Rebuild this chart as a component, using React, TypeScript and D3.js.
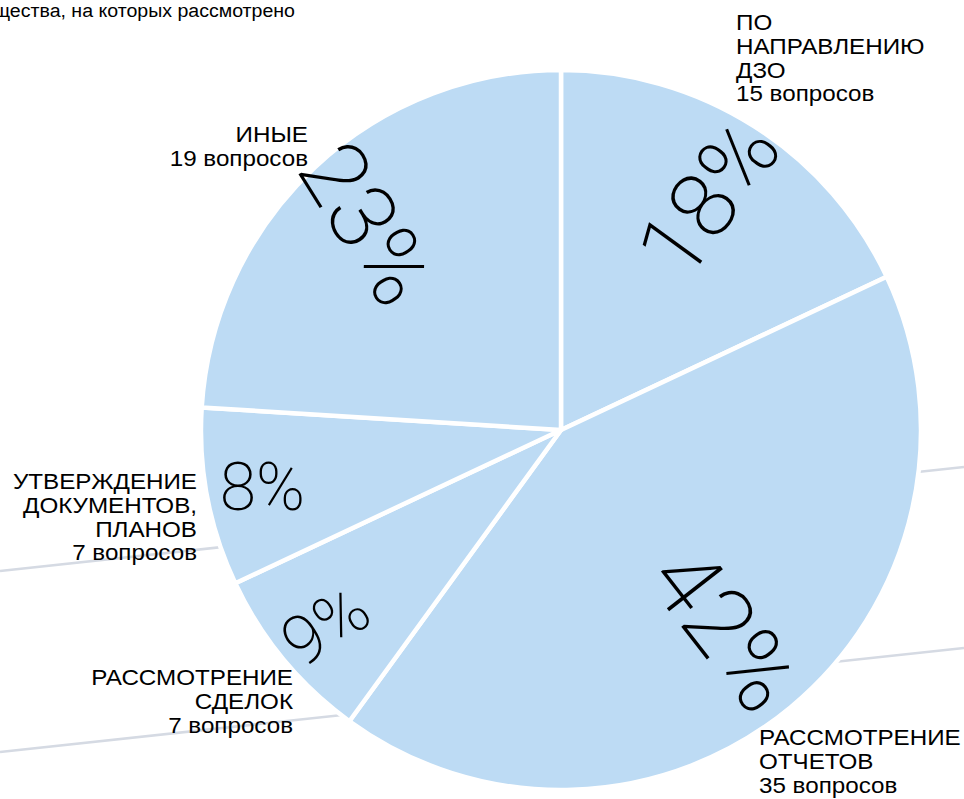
import React from "react";
import * as d3 from "d3";

// ---- data ----
const categoryLines: string[][] = [
  ["ПО", "НАПРАВЛЕНИЮ", "ДЗО"],
  ["РАССМОТРЕНИЕ", "ОТЧЕТОВ"],
  ["РАССМОТРЕНИЕ", "СДЕЛОК"],
  ["УТВЕРЖДЕНИЕ", "ДОКУМЕНТОВ,", "ПЛАНОВ"],
  ["ИНЫЕ"],
];
const questionCounts = [15, 35, 7, 7, 19];
const percentLabels = ["18%", "42%", "9%", "8%", "23%"];
const sliceShares = [18, 42, 8, 8, 24];
const headerText = "щества, на которых рассмотрено";

// ---- layout ----
const W = 964;
const H = 799;
const CX = 561;
const CY = 430;
const R = 360;
const labelAnchors = [
  { x: 736, y: 30, anchor: "start" },
  { x: 759, y: 745, anchor: "start" },
  { x: 293, y: 685, anchor: "end" },
  { x: 197, y: 489, anchor: "end" },
  { x: 308, y: 142, anchor: "end" },
];
const pctLayout = [
  { r: 275, rot: -54, size: 92 },
  { r: 258, rot: 52, size: 96 },
  { r: 306, rot: -33, size: 68 },
  { r: 304, rot: 0, size: 66 },
  { r: 283, rot: 58, size: 92 },
];
const bgLines = [
  [0, 571, 964, 467],
  [0, 752, 964, 648],
];
const LINE_H = 23.8;
const FONT = "'Liberation Sans', Arial, Helvetica, sans-serif";

export default function App() {
  const pie = d3
    .pie<number>()
    .sort(null)
    .value((d) => d)
    .startAngle(0)
    .endAngle(2 * Math.PI);
  const arcs = pie(sliceShares);
  const arcGen = d3.arc<d3.PieArcDatum<number>>().innerRadius(0).outerRadius(R);

  return (
    <svg
      width={W}
      height={H}
      style={{ position: "absolute", left: 0, top: 0, background: "#fff" }}
    >
      {bgLines.map((l, i) => (
        <line key={i} x1={l[0]} y1={l[1]} x2={l[2]} y2={l[3]} stroke="#d5dae3" strokeWidth={2.5} />
      ))}
      <g transform={`translate(${CX},${CY})`}>
        {arcs.map((a, i) => (
          <path key={i} d={arcGen(a) || ""} fill="#bddbf4" stroke="#fff" strokeWidth={4.5} strokeLinejoin="round" />
        ))}
        {arcs.map((a, i) => {
          const mid = (a.startAngle + a.endAngle) / 2;
          const L = pctLayout[i];
          const x = Math.sin(mid) * L.r;
          const y = -Math.cos(mid) * L.r;
          return (
            <text
              key={"p" + i}
              transform={`translate(${x},${y}) rotate(${L.rot})`}
              textAnchor="middle"
              dy="0.35em"
              fontFamily="Roboto, sans-serif"
              fontWeight={200}
              fontSize={L.size}
              fill="#000"
            >
              {percentLabels[i]}
            </text>
          );
        })}
      </g>
      {labelAnchors.map((p, i) => {
        const lines = [...categoryLines[i], `${questionCounts[i]} вопросов`];
        return (
          <g key={"l" + i} transform={`translate(${p.x},${p.y}) scale(1.1,1)`}>
            {lines.map((t, j) => (
              <text
                key={j}
                x={0}
                y={j * LINE_H}
                textAnchor={p.anchor as any}
                fontFamily={FONT}
                fontSize={22}
                fill="#000"
              >
                {t}
              </text>
            ))}
          </g>
        );
      })}
      <g transform="translate(-6,17) scale(1.03,1)">
        <text x={0} y={0} fontFamily={FONT} fontSize={19} fill="#000">
          {headerText}
        </text>
      </g>
    </svg>
  );
}
